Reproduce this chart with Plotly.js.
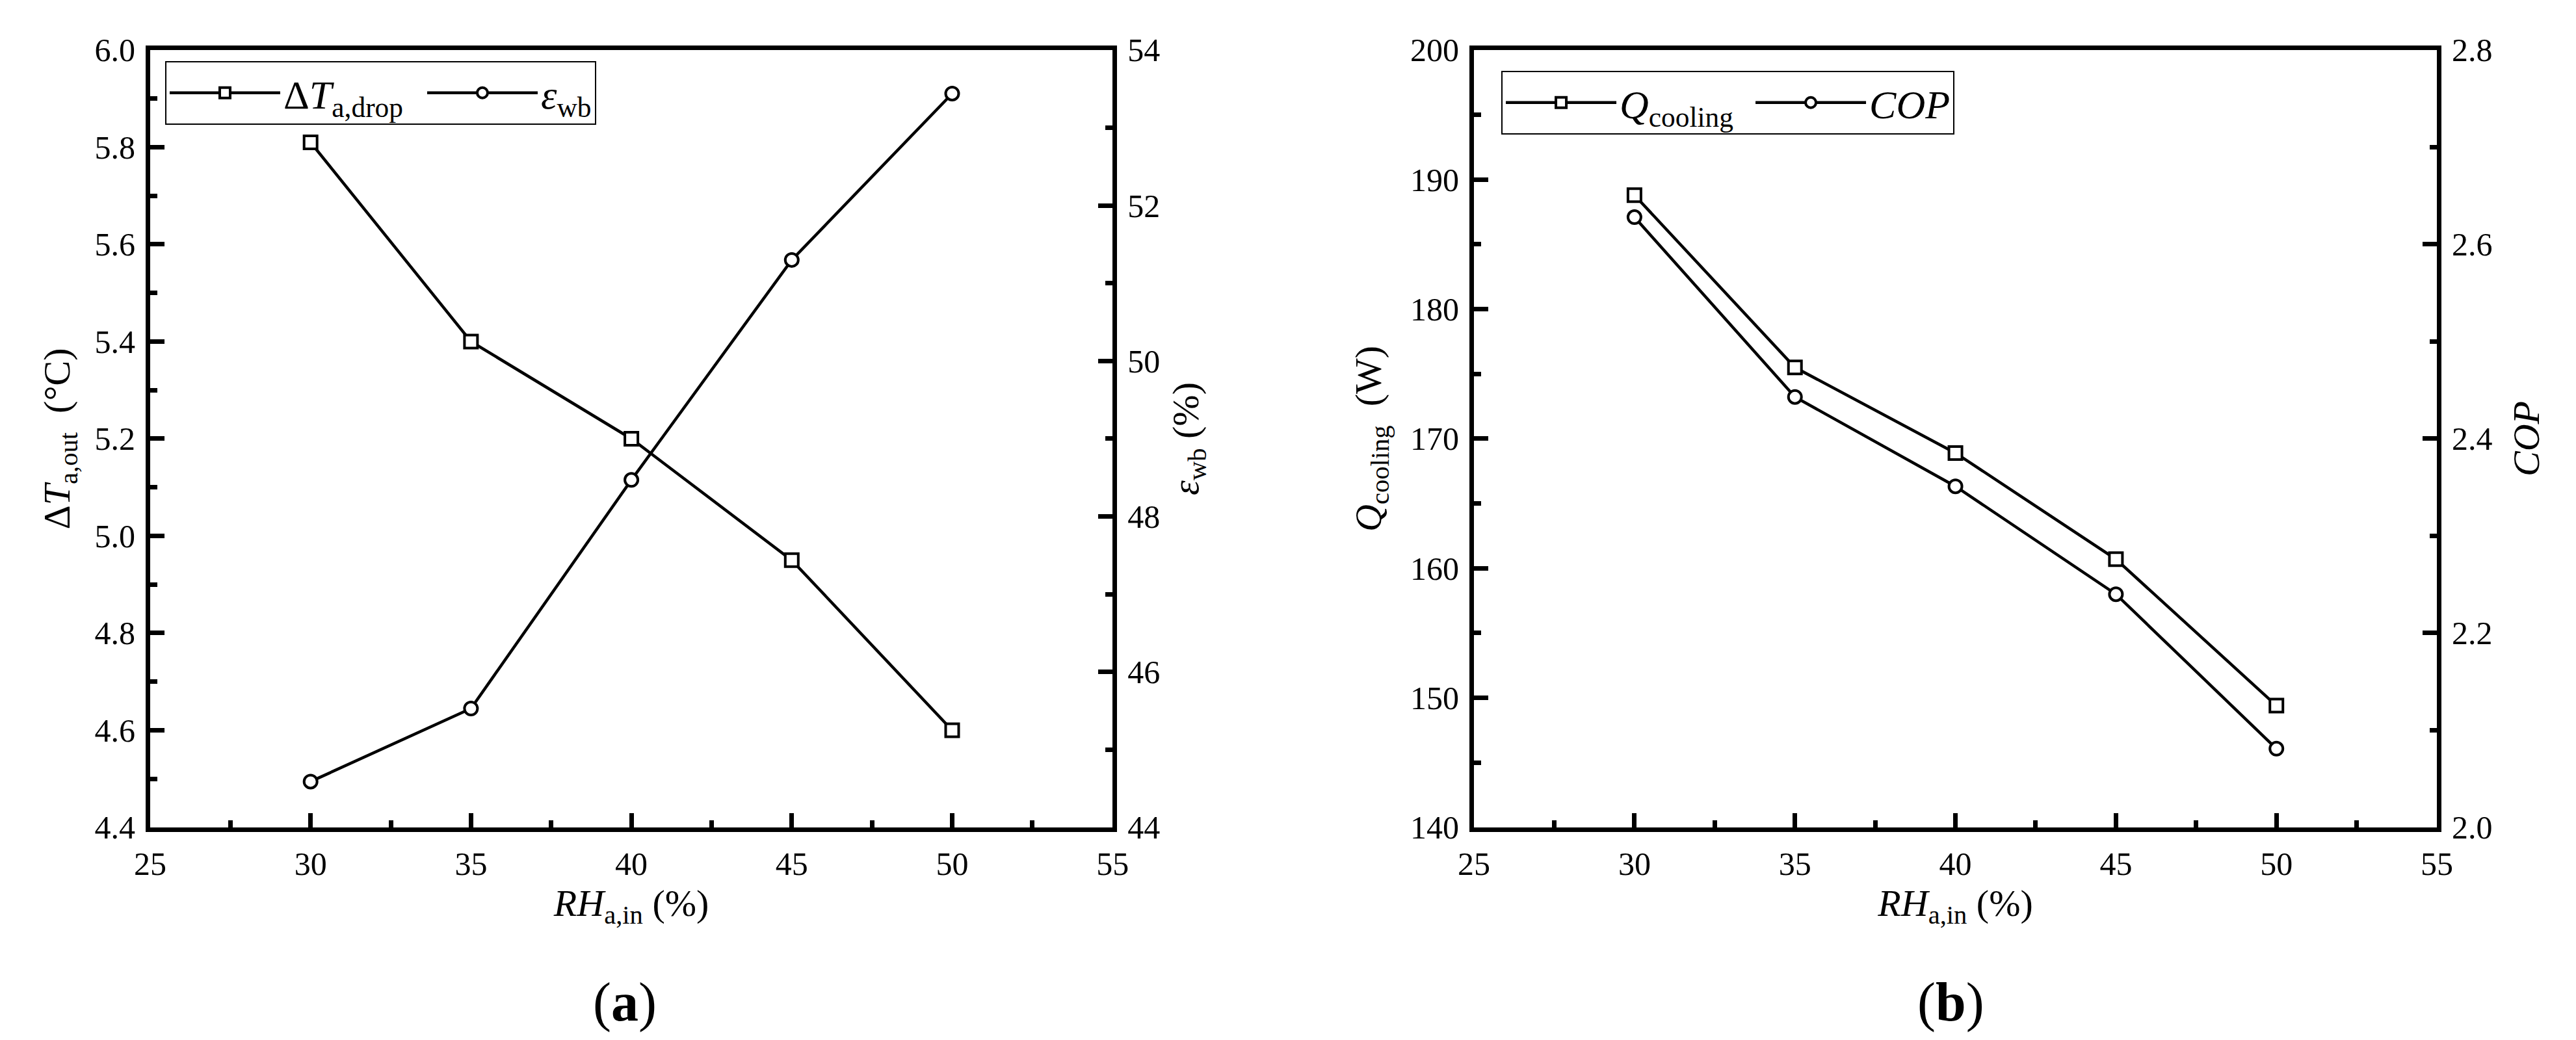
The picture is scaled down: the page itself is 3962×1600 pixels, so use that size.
<!DOCTYPE html>
<html>
<head>
<meta charset="utf-8">
<script src="https://cdn.plot.ly/plotly-3.0.1.min.js"></script>
<style>
  html, body { margin: 0; padding: 0; background: #fff; }
  #chart { width: 3962px; height: 1600px; }
</style>
</head>
<body>
<div id="chart"></div>
<script>
// inlet relative humidity (%), shared by both panels
const rhIn = [30, 35, 40, 45, 50];

// panel (a)
const tempDrop = [5.81, 5.40, 5.20, 4.95, 4.60];      // °C
const wetBulbEff = [44.59, 45.53, 48.47, 51.30, 53.44]; // %

// panel (b)
const coolingCap = [188.8, 175.5, 168.9, 160.7, 149.4]; // W
const cop = [2.628, 2.443, 2.351, 2.240, 2.081];

const FONT = 'Liberation Serif, Times New Roman, serif';

function series(x, y, name, symbol, xa, ya, legend) {
    return {
        x: x, y: y, name: name,
        xaxis: xa, yaxis: ya, legend: legend,
        mode: 'lines+markers',
        line: { color: '#000', width: 4.5 },
        marker: { symbol: symbol, size: 20, color: '#fff', line: { color: '#000', width: 4 } },
        hoverinfo: 'x+y'
    };
}

const traces = [
    series(rhIn, tempDrop, 'Δ<i>T</i><sub>a,drop</sub>', 'square', 'x', 'y', 'legend'),
    series(rhIn, wetBulbEff, '<i>ε</i><sub>wb</sub>', 'circle', 'x', 'y2', 'legend'),
    series(rhIn, coolingCap, '<i>Q</i><sub>cooling</sub>', 'square', 'x2', 'y3', 'legend2'),
    series(rhIn, cop, '<i>COP</i>', 'circle', 'x2', 'y4', 'legend2')
];
// a bit of room after the first entry of each legend
traces[0].legendwidth = 211;
traces[2].legendwidth = 199;

// common look of every axis: thick black frame, inward ticks
function axis(opts) {
    const base = {
        showline: true, linecolor: '#000', linewidth: 7,
        ticks: 'inside', ticklen: 22, tickwidth: 7, tickcolor: '#000',
        showgrid: false, zeroline: false,
        tickfont: { size: 50, color: '#000' },
        ticklabelstandoff: 6,
        minor: { ticks: 'inside', ticklen: 11, tickwidth: 7, tickcolor: '#000', showgrid: false }
    };
    const out = Object.assign({}, base, opts);
    out.minor = Object.assign({}, base.minor, opts.minor || {});
    if (opts.title) out.title = Object.assign({ font: { size: 58, color: '#000' } }, opts.title);
    return out;
}

const domA = [0.0583, 0.4319];
const domB = [0.5722, 0.9460];
const domY = [0.2044, 0.9519];

const xTitle = { text: '<i>RH</i><sub>a,in</sub> (%)', standoff: 8 };

function legendBox(x, y) {
    return {
        x: x, y: y, xanchor: 'left', yanchor: 'top',
        orientation: 'h', bgcolor: '#fff', bordercolor: '#000', borderwidth: 2,
        font: { size: 62, color: '#000' }, itemwidth: 170, valign: 'middle'
    };
}

const layout = {
    width: 3962,
    height: 1600,
    margin: { l: 0, r: 0, t: 0, b: 0 },
    paper_bgcolor: '#fff',
    plot_bgcolor: '#fff',
    font: { family: FONT, color: '#000', size: 50 },
    showlegend: true,

    xaxis: axis({ domain: domA, anchor: 'y', range: [25, 55], tick0: 25, dtick: 5,
        minor: { dtick: 2.5 }, mirror: true, title: xTitle }),
    yaxis: axis({ domain: domY, anchor: 'x', range: [4.4, 6.0], dtick: 0.2, tickformat: '.1f',
        minor: { dtick: 0.1 },
        title: { text: 'Δ<i>T</i><sub>a,out</sub>\u00a0 (°C)', standoff: 22 } }),
    yaxis2: axis({ overlaying: 'y', side: 'right', anchor: 'x', range: [44, 54], dtick: 2,
        minor: { dtick: 1 },
        title: { text: '<i>ε</i><sub>wb</sub> (%)', standoff: 22 } }),

    xaxis2: axis({ domain: domB, anchor: 'y3', range: [25, 55], tick0: 25, dtick: 5,
        minor: { dtick: 2.5 }, mirror: true, title: xTitle }),
    yaxis3: axis({ domain: domY, anchor: 'x2', range: [140, 200], dtick: 10,
        minor: { dtick: 5 },
        title: { text: '<i>Q</i><sub>cooling</sub>\u00a0 (W)', standoff: 28 } }),
    yaxis4: axis({ overlaying: 'y3', side: 'right', anchor: 'x2', range: [2.0, 2.8], dtick: 0.2,
        tickformat: '.1f', minor: { dtick: 0.1 },
        title: { text: '<i>COP</i>', standoff: 34 } }),

    legend: legendBox(0.0641, 0.9413),
    legend2: legendBox(0.5828, 0.9319),

    annotations: [
        { text: '(<b>a</b>)', xref: 'paper', yref: 'paper', x: 0.2426, y: 0.036,
          xanchor: 'center', yanchor: 'middle', showarrow: false, font: { size: 84, color: '#000' } },
        { text: '(<b>b</b>)', xref: 'paper', yref: 'paper', x: 0.7572, y: 0.036,
          xanchor: 'center', yanchor: 'middle', showarrow: false, font: { size: 84, color: '#000' } }
    ]
};

Plotly.newPlot('chart', traces, layout, { displayModeBar: false, staticPlot: true });
</script>
</body>
</html>
